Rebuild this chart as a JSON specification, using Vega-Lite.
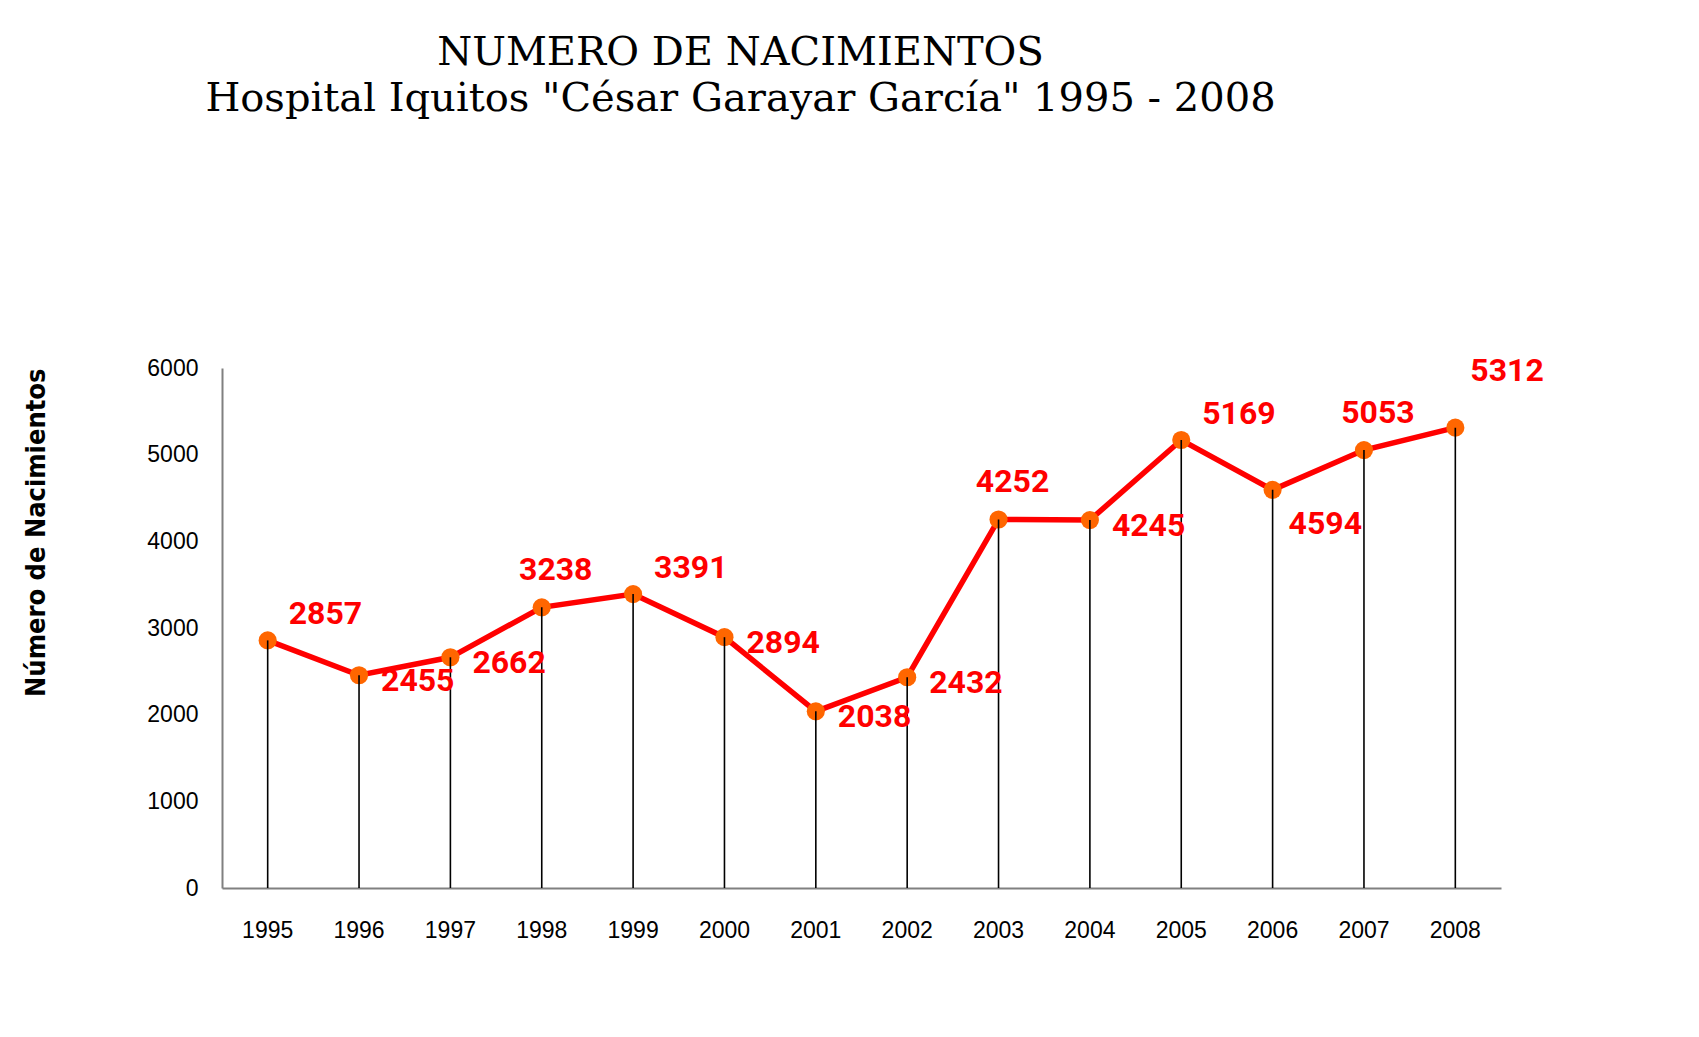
{
  "$schema": "https://vega.github.io/schema/vega-lite/v6.json",
  "autosize": {"type": "none"},
  "padding": {"left": 222, "top": 368, "right": 198, "bottom": 149},
  "width": 1279,
  "height": 520,
  "background": "white",
  "title": {
    "text": ["NUMERO DE NACIMIENTOS", "Hospital Iquitos \"César Garayar García\" 1995 - 2008"],
    "font": "DejaVu Serif",
    "fontSize": 40,
    "fontWeight": "normal",
    "lineHeight": 46,
    "color": "black",
    "anchor": "middle",
    "frame": "group",
    "dx": -121,
    "baseline": "bottom",
    "offset": 196
  },
  "data": {
    "values": [
      {"year": "1995", "value": 2857},
      {"year": "1996", "value": 2455},
      {"year": "1997", "value": 2662},
      {"year": "1998", "value": 3238},
      {"year": "1999", "value": 3391},
      {"year": "2000", "value": 2894},
      {"year": "2001", "value": 2038},
      {"year": "2002", "value": 2432},
      {"year": "2003", "value": 4252},
      {"year": "2004", "value": 4245},
      {"year": "2005", "value": 5169},
      {"year": "2006", "value": 4594},
      {"year": "2007", "value": 5053},
      {"year": "2008", "value": 5312}
    ]
  },
  "encoding": {
    "x": {
      "field": "year",
      "type": "ordinal",
      "scale": {"type": "band", "paddingInner": 0, "paddingOuter": 0},
      "axis": {
        "title": null,
        "labelAngle": 0,
        "ticks": false,
        "tickSize": 0,
        "labelPadding": 31,
        "labelFont": "Liberation Sans",
        "labelFontSize": 23,
        "labelColor": "black",
        "domainColor": "#808080",
        "domainWidth": 2,
        "grid": false
      }
    },
    "y": {
      "field": "value",
      "type": "quantitative",
      "scale": {"domain": [0, 6000], "nice": false, "zero": true},
      "axis": {
        "title": "Número de Nacimientos",
        "titleFont": "Liberation Sans Narrow, DejaVu Sans Condensed, sans-serif",
        "titleFontWeight": "bold",
        "titleFontSize": 27,
        "titleColor": "black",
        "titlePadding": 96,
        "titleAnchor": "end",
        "values": [0, 1000, 2000, 3000, 4000, 5000, 6000],
        "format": "d",
        "ticks": false,
        "tickSize": 0,
        "labelPadding": 24,
        "labelFont": "Liberation Sans",
        "labelFontSize": 23,
        "labelColor": "black",
        "domainColor": "#808080",
        "domainWidth": 2,
        "grid": false
      }
    }
  },
  "layer": [
    {"mark": {"type": "line", "color": "#FF0000", "strokeWidth": 5.5}},
    {"mark": {"type": "circle", "color": "#FF6600", "opacity": 1, "size": 330}},
    {"mark": {"type": "rule", "color": "black", "strokeWidth": 1.6}, "encoding": {"y2": {"datum": 0}}},
    {
      "transform": [{"filter": {"field": "year", "oneOf": ["1996", "1997", "2000", "2001", "2002", "2004"]}}],
      "mark": {"type": "text", "align": "left", "baseline": "middle", "dx": 22, "dy": 6, "font": "Roboto", "fontWeight": "bold", "fontSize": 32, "color": "#FF0000"},
      "encoding": {"text": {"field": "value", "type": "quantitative", "format": "d"}}
    },
    {
      "transform": [{"filter": {"field": "year", "oneOf": ["1995", "1999", "2005"]}}],
      "mark": {"type": "text", "align": "left", "baseline": "middle", "dx": 21, "dy": -26, "font": "Roboto", "fontWeight": "bold", "fontSize": 32, "color": "#FF0000"},
      "encoding": {"text": {"field": "value", "type": "quantitative", "format": "d"}}
    },
    {
      "transform": [{"filter": {"field": "year", "oneOf": ["1998", "2003", "2007"]}}],
      "mark": {"type": "text", "align": "center", "baseline": "middle", "dx": 14, "dy": -37, "font": "Roboto", "fontWeight": "bold", "fontSize": 32, "color": "#FF0000"},
      "encoding": {"text": {"field": "value", "type": "quantitative", "format": "d"}}
    },
    {
      "transform": [{"filter": {"field": "year", "oneOf": ["2006"]}}],
      "mark": {"type": "text", "align": "left", "baseline": "middle", "dx": 16, "dy": 34, "font": "Roboto", "fontWeight": "bold", "fontSize": 32, "color": "#FF0000"},
      "encoding": {"text": {"field": "value", "type": "quantitative", "format": "d"}}
    },
    {
      "transform": [{"filter": {"field": "year", "oneOf": ["2008"]}}],
      "mark": {"type": "text", "align": "left", "baseline": "middle", "dx": 15, "dy": -57, "font": "Roboto", "fontWeight": "bold", "fontSize": 32, "color": "#FF0000"},
      "encoding": {"text": {"field": "value", "type": "quantitative", "format": "d"}}
    }
  ],
  "config": {"view": {"stroke": null}}
}
